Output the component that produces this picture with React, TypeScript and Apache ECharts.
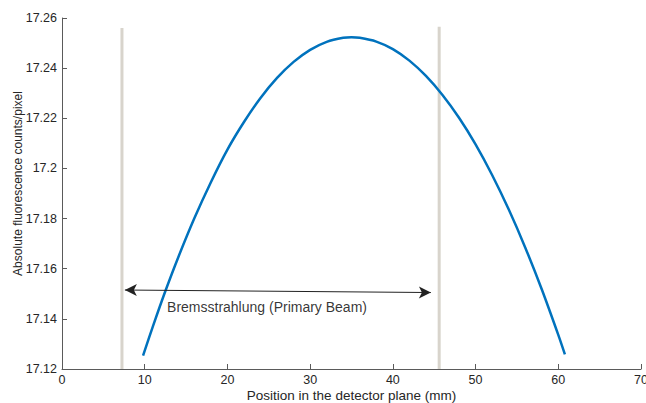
import React, { useEffect, useRef } from "react";
import * as echarts from "echarts";

const positions = [9.8, 11, 12.5, 14, 16, 18, 20, 22, 24, 26, 28, 30, 32, 34, 35, 36, 38, 40, 42, 44, 46, 48, 50, 52, 54, 56, 58, 60, 60.8];
const counts = [17.1253, 17.1371, 17.1511, 17.1641, 17.1801, 17.1945, 17.2075, 17.2185, 17.2281, 17.2361, 17.2425, 17.2473, 17.2505, 17.2521, 17.2523, 17.2521, 17.2506, 17.2476, 17.243, 17.2369, 17.2293, 17.2202, 17.2096, 17.1974, 17.1837, 17.1685, 17.1518, 17.1336, 17.1258];

const leftBoundary = [[7.25, 17.12], [7.25, 17.256]];
const rightBoundary = [[45.6, 17.12], [45.6, 17.2565]];
const arrowStart = [7.6, 17.1515];
const arrowEnd = [44.6, 17.1505];
const annotationPos = [12.7, 17.1447];
const annotationText = "Bremsstrahlung (Primary Beam)";

const xTicks = { min: 0, max: 70, interval: 10 };
const yTicks = { min: 17.12, max: 17.26, interval: 0.02 };

export default function App() {
  const ref = useRef<HTMLDivElement>(null);
  useEffect(() => {
    const chart = echarts.init(ref.current!, null, { renderer: "svg" });
    const font = "'Liberation Sans', Arial, Helvetica, sans-serif";
    const axisColor = "#262626";
    chart.setOption({
      animation: false,
      textStyle: { fontFamily: font },
      grid: { left: 62, right: 5, top: 18, bottom: 34, outerBoundsMode: "none", containLabel: false },
      xAxis: {
        type: "value",
        min: xTicks.min,
        max: xTicks.max,
        interval: xTicks.interval,
        name: "Position in the detector plane (mm)",
        nameLocation: "middle",
        nameGap: 19,
        nameMoveOverlap: false,
        nameTextStyle: { fontSize: 13.5, color: axisColor, fontFamily: font },
        axisLine: { show: true, lineStyle: { color: "#5a5a5a", width: 1 } },
        axisTick: { show: true, inside: true, length: 5, lineStyle: { color: "#5a5a5a" } },
        axisLabel: { fontSize: 12.5, color: axisColor, margin: 4, fontFamily: font },
        splitLine: { show: false },
      },
      yAxis: {
        type: "value",
        min: yTicks.min,
        max: yTicks.max,
        interval: yTicks.interval,
        name: "Absolute fluorescence counts/pixel",
        nameLocation: "middle",
        nameGap: 38,
        nameMoveOverlap: false,
        nameTextStyle: { fontSize: 12, color: axisColor, fontFamily: font, padding: [0, 0, 0, 20] },
        axisLine: { show: true, lineStyle: { color: "#5a5a5a", width: 1 } },
        axisTick: { show: true, inside: true, length: 5, lineStyle: { color: "#5a5a5a" } },
        axisLabel: { fontSize: 12.5, color: axisColor, margin: 5, fontFamily: font },
        splitLine: { show: false },
      },
      series: [
        {
          type: "line",
          data: leftBoundary,
          showSymbol: false,
          lineStyle: { color: "#d8d4cc", width: 3 },
          silent: true,
        },
        {
          type: "line",
          data: rightBoundary,
          showSymbol: false,
          lineStyle: { color: "#d8d4cc", width: 3 },
          silent: true,
        },
        {
          type: "line",
          data: positions.map((x, i) => [x, counts[i]]),
          smooth: 0.3,
          showSymbol: false,
          lineStyle: { color: "#0072BD", width: 2.5 },
          z: 3,
        },
        {
          type: "scatter",
          data: [annotationPos],
          symbolSize: 0,
          label: {
            show: true,
            position: "right",
            distance: 0,
            formatter: annotationText,
            fontSize: 14,
            color: "#000",
            fontFamily: font,
          },
          markLine: {
            silent: true,
            symbol: ["arrow", "arrow"],
            symbolSize: [9, 12],
            label: { show: false },
            lineStyle: { color: "#222", width: 1, type: "solid" },
            data: [[{ coord: arrowStart }, { coord: arrowEnd }]],
          },
          z: 4,
        },
      ],
    });
    return () => chart.dispose();
  }, []);
  return (
    <div
      ref={ref}
      style={{ position: "fixed", left: 0, top: 0, width: 646, height: 403, background: "#fff" }}
    />
  );
}
